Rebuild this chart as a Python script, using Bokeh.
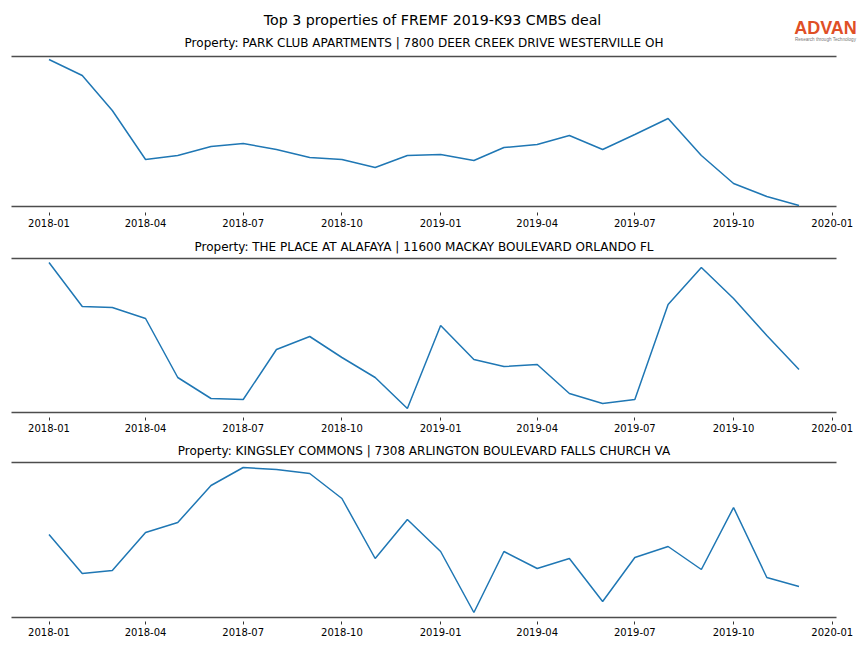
import pandas as pd
from bokeh.plotting import figure
from bokeh.models import Label, FixedTicker, DatetimeTickFormatter, Range1d
from bokeh.layouts import column
from bokeh.embed import file_html
from bokeh.resources import INLINE

# ---------------- data ----------------
months = ["2018-01-01", "2018-02-01", "2018-03-01", "2018-04-01", "2018-05-01", "2018-06-01",
          "2018-07-01", "2018-08-01", "2018-09-01", "2018-10-01", "2018-11-01", "2018-12-01",
          "2019-01-01", "2019-02-01", "2019-03-01", "2019-04-01", "2019-05-01", "2019-06-01",
          "2019-07-01", "2019-08-01", "2019-09-01", "2019-10-01", "2019-11-01", "2019-12-01"]

park_club = [147, 131, 96, 47, 51, 60, 63, 57, 49, 47, 39, 51,
             52, 46, 59, 62, 71, 57, 72, 88, 51, 23, 10, 1]
place_alafaya = [150, 106, 105, 94, 35, 14, 13, 63, 76, 55, 35, 4,
                 87, 53, 46, 48, 19, 9, 13, 108, 145, 114, 77, 43]
kingsley = [83, 44, 47, 85, 95, 132, 150, 148, 144, 119, 59, 98,
            66, 5, 66, 49, 59, 16, 60, 71, 48, 110, 40, 31]

titles = ["Property: PARK CLUB APARTMENTS | 7800 DEER CREEK DRIVE WESTERVILLE OH",
          "Property: THE PLACE AT ALAFAYA | 11600 MACKAY BOULEVARD ORLANDO FL",
          "Property: KINGSLEY COMMONS | 7308 ARLINGTON BOULEVARD FALLS CHURCH VA"]
main_title = "Top 3 properties of FREMF 2019-K93 CMBS deal"

tick_labels = ["2018-01", "2018-04", "2018-07", "2018-10", "2019-01", "2019-04",
               "2019-07", "2019-10", "2020-01"]

# ---------------- layout ----------------
FONT = "DejaVu Sans"
W = 860
AX_L, AX_R = 11, 836          # axes box left/right (px)

dates = pd.to_datetime(months)
pad = (dates[-1] - dates[0]) * 0.05
x_start, x_end = dates[0] - pad, dates[-1] + pad
px_per = (AX_R - AX_L) / (x_end - x_start).total_seconds()
full_start = x_start - pd.Timedelta(seconds=AX_L / px_per)
full_end = x_end + pd.Timedelta(seconds=(W - AX_R) / px_per)
tick_ms = [pd.Timestamp(t + "-01").value / 1e6 for t in tick_labels]

# (values, title, frame height, bottom border, y_range, top spine, title y)
panels = [
    (park_club, titles[0], 212, 22, (-6, 206), 150, 170),
    (place_alafaya, titles[1], 183, 21, (-5, 178), 154, 171),
    (kingsley, titles[2], 183, 19, (-4, 179), 155, 171),
]

figs = []
for i, (vals, title, fh, bb, yr, top_span, ty) in enumerate(panels):
    p = figure(width=W, height=fh + bb, output_backend="svg", toolbar_location=None,
               x_axis_type="datetime", y_axis_location=None,
               x_range=Range1d(full_start, full_end), y_range=Range1d(*yr),
               min_border_left=0, min_border_right=0,
               min_border_top=0, min_border_bottom=bb)
    p.outline_line_color = None
    p.xgrid.visible = False
    p.ygrid.visible = False
    p.background_fill_color = "white"
    p.border_fill_color = "white"

    ax = p.xaxis[0]
    ax.ticker = FixedTicker(ticks=tick_ms)
    fmt = "%Y-%m"
    ax.formatter = DatetimeTickFormatter(months=fmt, days=fmt, years=fmt, hours=fmt,
                                         minutes=fmt, seconds=fmt, milliseconds=fmt,
                                         microseconds=fmt, minsec=fmt, hourmin=fmt)
    ax.axis_line_color = None
    ax.major_tick_in = 0
    ax.major_tick_out = 3
    ax.major_tick_line_color = "black"
    ax.major_tick_line_width = 0.8
    ax.minor_tick_line_color = None
    ax.major_label_standoff = 3
    ax.major_label_text_font = FONT
    ax.major_label_text_font_size = "10px"
    ax.major_label_text_color = "black"

    # top and bottom spines of the axes box
    p.segment(x0=[x_start, x_start], y0=[top_span, 0], x1=[x_end, x_end], y1=[top_span, 0],
              line_color="#4d4d4d", line_width=1.6)

    p.line(x=dates, y=vals, line_color="#1f77b4", line_width=1.5)

    p.add_layout(Label(x=(AX_L + AX_R) / 2, y=ty, x_units="screen", y_units="screen", text=title,
                       text_align="center", text_baseline="middle", text_font=FONT,
                       text_font_size="12px", text_color="black"))
    if i == 0:
        p.add_layout(Label(x=432, y=193, x_units="screen", y_units="screen",
                           text=main_title, text_align="center", text_baseline="middle",
                           text_font=FONT, text_font_size="14.2px", text_color="black"))
        p.add_layout(Label(x=825, y=212 - 27, x_units="screen", y_units="screen",
                           text="ADVAN", text_align="center", text_baseline="middle",
                           text_font="Liberation Sans", text_font_style="bold",
                           text_font_size="18px", text_color="#df4f26"))
        p.add_layout(Label(x=825, y=212 - 38.5, x_units="screen", y_units="screen",
                           text="Research through Technology", text_align="center",
                           text_baseline="middle", text_font="Liberation Sans",
                           text_font_size="4.6px", text_color="#777777"))
    figs.append(p)

layout = column(*figs, spacing=0)
open("out.html", "w").write(file_html(layout, INLINE))
